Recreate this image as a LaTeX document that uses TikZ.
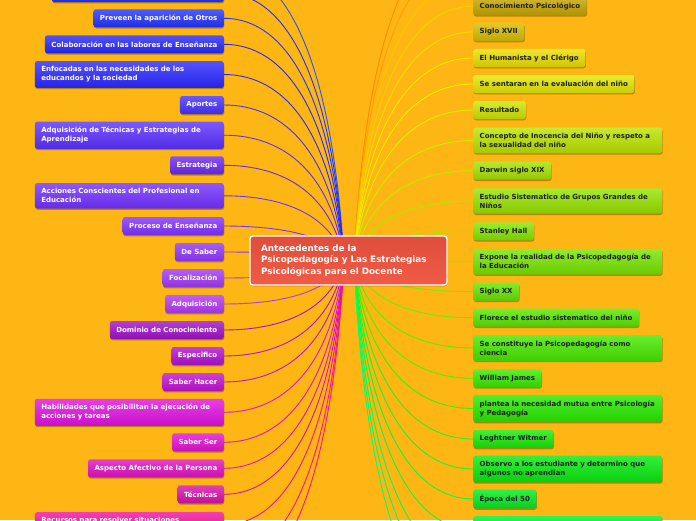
\documentclass[tikz,border=0pt]{standalone}
\usepackage{fontspec}
\setmainfont{DejaVu Sans}
\usetikzlibrary{calc,shadows}
\pgfdeclarelayer{back}
\pgfdeclarelayer{lines}
\pgfsetlayers{back,lines,main}
\definecolor{bgc}{HTML}{FDB614}
\definecolor{ctop}{HTML}{DE4E3B}
\definecolor{cbot}{HTML}{F05B46}
\tikzset{
  box/.style={rounded corners=2.5pt, inner xsep=6.5pt, inner ysep=5.5pt, minimum height=18pt,
    font=\fontsize{7}{9}\selectfont\bfseries,
    drop shadow={shadow xshift=0.5pt, shadow yshift=-1.3pt, opacity=0.28, fill=black}},
  lbox/.style={box, anchor=east, text=white},
  rbox/.style={box, anchor=west, text=black!88},
  wide/.style={text width=176pt, align=left},
  conn/.style={line width=0.9pt},
  central/.style={rounded corners=3pt, draw=white, line width=1.3pt, top color=ctop, bottom color=cbot,
    text=white, font=\fontsize{8.8}{11.4}\selectfont\bfseries, text width=175pt, align=left,
    inner xsep=11pt, minimum height=49pt, minimum width=197pt,
    drop shadow={shadow xshift=0.5pt, shadow yshift=-1.3pt, opacity=0.25, fill=black}}
}
% left node: [opts]{name}{y}{hex}{text}
\newcommand\LN[5][]{\definecolor{c#2}{HTML}{#4}%
  \node[lbox, top color=c#2!80!white, bottom color=c#2!90!black, #1] (#2) at (224,#3) {#5};}
% right node: [opts]{name}{y}{boxhex}{linehex}{text}
\newcommand\RN[6][]{\definecolor{c#2}{HTML}{#4}\definecolor{l#2}{HTML}{#5}%
  \node[rbox, top color=c#2!82!white, bottom color=c#2!88!black, #1] (#2) at (473,#3) {#6};}
% connector {from}{to}{colour}
\newcommand\CN[3]{\draw[conn, draw=#3] let \p1=(#1), \p2=(#2) in
  (\p1) .. controls (\x1+0.1*\x2-0.1*\x1, \y1+0.7*\y2-0.7*\y1) and (0.5*\x1+0.5*\x2, \y2) .. (\p2);}
\begin{document}
\begin{tikzpicture}[x=1pt, y=-1pt]
\useasboundingbox (0,0) rectangle (696,520);
\clip (0,0) rectangle (696,520);
\begin{pgfonlayer}{back}
  \fill[bgc] (0,0) rectangle (696,520);
\end{pgfonlayer}

\coordinate (cl) at (344,261);
\coordinate (cr) at (354,261);
\coordinate (lo1) at (224,-33);
\coordinate (lb1) at (224,560);
\coordinate (lb2) at (224,586);
\coordinate (ro1) at (473,-72);
\coordinate (ro2) at (473,-46);
\coordinate (ro3) at (473,-20);
\coordinate (rb1) at (473,564);
\coordinate (rb2) at (473,592);
\coordinate (rb3) at (473,620);

% central node
\node[central] (center) at (348.5,260.5) {Antecedentes de la\\Psicopedagogía y Las Estrategias\\Psicológicas para el Docente};

% left nodes
\LN[minimum width=172pt]{l0}{-7}{2030FF}{}
\LN{pre}{18.3}{2233FF}{Preveen la aparición de Otros}
\LN{col}{44.3}{2828F8}{Colaboración en las labores de Enseñanza}
\LN[wide]{enf}{74.5}{2A28FF}{Enfocadas en las necesidades de los\\educandos y la sociedad}
\LN{apo}{105}{4530FF}{Aportes}
\LN[wide]{adt}{135.2}{5A30FF}{Adquisición de Técnicas y Estrategias de\\Aprendizaje}
\LN{est}{165.3}{6A28F0}{Estrategia}
\LN[wide]{acc}{195.8}{7030FF}{Acciones Conscientes del Profesional en\\Educación}
\LN{pro}{226}{8030FF}{Proceso de Enseñanza}
\LN{des}{252}{9035FA}{De Saber}
\LN{foc}{278}{A038F5}{Focalización}
\LN{adq}{304}{B038F0}{Adquisición}
\LN{dom}{330}{A010C8}{Dominio de Conocimiento}
\LN{esp}{356}{B010D0}{Especifico}
\LN{sah}{382}{C010D0}{Saber Hacer}
\LN[wide]{hab}{412.3}{E010E0}{Habilidades que posibilitan la ejecución de\\acciones y tareas}
\LN{sas}{442.3}{E010D0}{Saber Ser}
\LN{asp}{468.3}{E010C0}{Aspecto Afectivo de la Persona}
\LN{tec}{494.3}{D810A8}{Técnicas}
\LN[wide]{rec}{524.8}{F0109A}{Recursos para resolver situaciones\\\phantom{x}}

% right nodes
\RN{con}{6.2}{C9A800}{F5D000}{Conocimiento Psicológico}
\RN{s17}{32}{D8BE00}{F8DC00}{Siglo XVII}
\RN{hum}{58}{ECE000}{FFE800}{El Humanista y el Clérigo}
\RN{sen}{84}{E4E800}{F0F000}{Se sentaran en la evaluación del niño}
\RN{res}{110}{D0E600}{DDF000}{Resultado}
\RN[wide]{cin}{140.5}{BCE400}{C8F000}{Concepto de Inocencia del Niño y respeto a\\la sexualidad del niño}
\RN{dar}{170.7}{A8E200}{B4F000}{Darwin siglo XIX}
\RN[wide]{esg}{201}{98E400}{A0F000}{Estudio Sistematico de Grupos Grandes de\\Niños}
\RN{sta}{231.3}{88E600}{90F000}{Stanley Hall}
\RN[wide]{exp}{261.7}{78E600}{80F000}{Expone la realidad de la Psicopedagogía de\\la Educación}
\RN{s20}{291.7}{68E600}{70F000}{Siglo XX}
\RN{flo}{317.7}{58E800}{60F400}{Florece el estudio sistematico del niño}
\RN[wide]{sec}{348}{48EA00}{50F400}{Se constituye la Psicopedagogía como\\ciencia}
\RN{wil}{378.3}{38EC00}{40F800}{William James}
\RN[wide]{pla}{408.5}{28EC00}{30F800}{plantea la necesidad mutua entre Psicología\\y Pedagogía}
\RN{leg}{439}{18EC08}{20FA10}{Leghtner Witmer}
\RN[wide]{obs}{469}{08EC10}{10FC20}{Observo a los estudiante y determino que\\algunos no aprendian}
\RN{epo}{499}{00EE20}{00FF30}{Época del 50}
\RN[minimum width=189pt, minimum height=27pt]{lst}{529.5}{00F030}{00FF40}{}

\begin{pgfonlayer}{lines}
  \definecolor{lo1c}{HTML}{2255FF}
  \definecolor{lb1c}{HTML}{FF1090}
  \definecolor{lb2c}{HTML}{FF1080}
  \definecolor{ro1c}{HTML}{FF8A00}
  \definecolor{ro2c}{HTML}{FFA000}
  \definecolor{ro3c}{HTML}{FFC400}
  \definecolor{rb1c}{HTML}{00FF50}
  \definecolor{rb2c}{HTML}{00FF60}
  \definecolor{rb3c}{HTML}{00FF70}
  \CN{cl}{lo1}{lo1c}
  \foreach \nm in {l0,pre,col,enf,apo,adt,est,acc,pro,des,foc,adq,dom,esp,sah,hab,sas,asp,tec,rec}
    {\CN{cl}{\nm.east}{c\nm}}
  \CN{cl}{lb1}{lb1c}
  \CN{cl}{lb2}{lb2c}
  \CN{cr}{ro1}{ro1c}
  \CN{cr}{ro2}{ro2c}
  \CN{cr}{ro3}{ro3c}
  \foreach \nm in {con,s17,hum,sen,res,cin,dar,esg,sta,exp,s20,flo,sec,wil,pla,leg,obs,epo,lst}
    {\CN{cr}{\nm.west}{l\nm}}
  \CN{cr}{rb1}{rb1c}
  \CN{cr}{rb2}{rb2c}
  \CN{cr}{rb3}{rb3c}
\end{pgfonlayer}
\end{tikzpicture}
\end{document}
